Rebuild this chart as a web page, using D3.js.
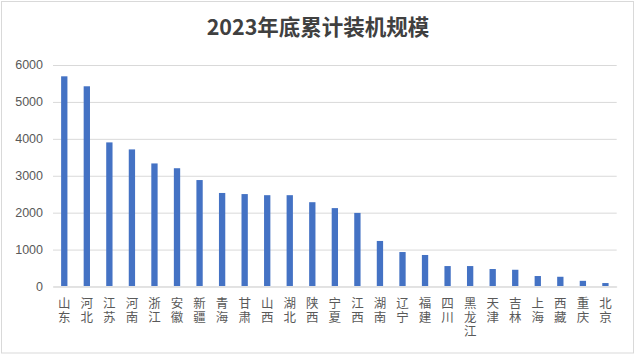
<!DOCTYPE html>
<html>
<head>
<meta charset="utf-8">
<script src="https://cdn.jsdelivr.net/npm/d3@7"></script>
<style>
html,body{margin:0;padding:0;background:#fff;}
svg{display:block;}
</style>
</head>
<body>
<svg id="chart" width="636" height="355"></svg>
<script>
const categories = ["山东","河北","江苏","河南","浙江","安徽","新疆","青海","甘肃","山西","湖北","陕西","宁夏","江西","湖南","辽宁","福建","四川","黑龙江","天津","吉林","上海","西藏","重庆","北京"];
const values = [5680,5410,3890,3700,3320,3190,2870,2520,2490,2460,2460,2270,2110,1980,1220,920,840,540,540,460,440,270,250,140,80];
const yTicks = [0,1000,2000,3000,4000,5000,6000];
const title = "2023年底累计装机规模";

const svg = d3.select("#chart");
const W = 636, H = 355;
const m = {left:53, right:19.3, top:64.5, bottom:69};

svg.append("rect").attr("x",1.5).attr("y",1.5).attr("width",W-4).attr("height",H-3.5)
  .attr("fill","#fff").attr("stroke","#d9d9d9").attr("stroke-width",1);

const x = d3.scaleBand().domain(categories).range([m.left, W-m.right]).paddingInner(0.72).paddingOuter(0.36);
const y = d3.scaleLinear().domain([0,6000]).range([H-m.bottom, m.top]);

// gridlines
const grid = svg.append("g").attr("transform",`translate(${m.left},0)`)
  .call(d3.axisLeft(y).tickValues(yTicks).tickSize(-(W-m.right-m.left)).tickFormat(""));
grid.select(".domain").remove();
grid.selectAll("text").remove();
grid.selectAll("line").attr("stroke","#d9d9d9").attr("stroke-width",1)
  .attr("transform","translate(0,0.5)");

// y labels
const ya = svg.append("g").attr("transform",`translate(${m.left-10},0)`)
  .call(d3.axisLeft(y).tickValues(yTicks).tickSize(0).tickPadding(0).tickFormat(d3.format("d")));
ya.select(".domain").remove();
ya.selectAll("line").remove();
ya.selectAll("text").attr("fill","#595959").attr("font-family","Liberation Sans, Arial, sans-serif")
  .attr("font-size","12.5px").attr("dy","0.35em");

// bars
svg.append("g").selectAll("rect").data(values).join("rect")
  .attr("x",(d,i)=>x(categories[i]))
  .attr("width",x.bandwidth())
  .attr("y",d=>y(d))
  .attr("height",d=>y(0)-y(d))
  .attr("fill","#4472c4");

// x axis line
const xa = svg.append("g").attr("transform",`translate(0,${y(0)+0.5})`)
  .call(d3.axisBottom(x).tickSize(0).tickFormat(""));
xa.select(".domain").attr("stroke","#d9d9d9");
xa.selectAll(".tick").remove();

// x labels - vertical text (one element per category)
svg.append("g").selectAll("text").data(categories).join("text")
  .attr("x",c=>x(c)+x.bandwidth()/2)
  .attr("y",296.5)
  .attr("writing-mode","vertical-rl")
  .attr("text-anchor","start")
  .attr("letter-spacing","1.8px")
  .attr("fill","#595959")
  .attr("font-family","Noto Sans CJK SC, sans-serif").attr("font-size","12.5px")
  .text(c=>c);

// title
svg.append("text").attr("x",318).attr("y",35).attr("text-anchor","middle")
  .attr("font-family","Noto Sans CJK SC, sans-serif").attr("font-weight","bold")
  .attr("font-size","21.5px").attr("fill","#404040").text(title);
</script>
</body>
</html>
